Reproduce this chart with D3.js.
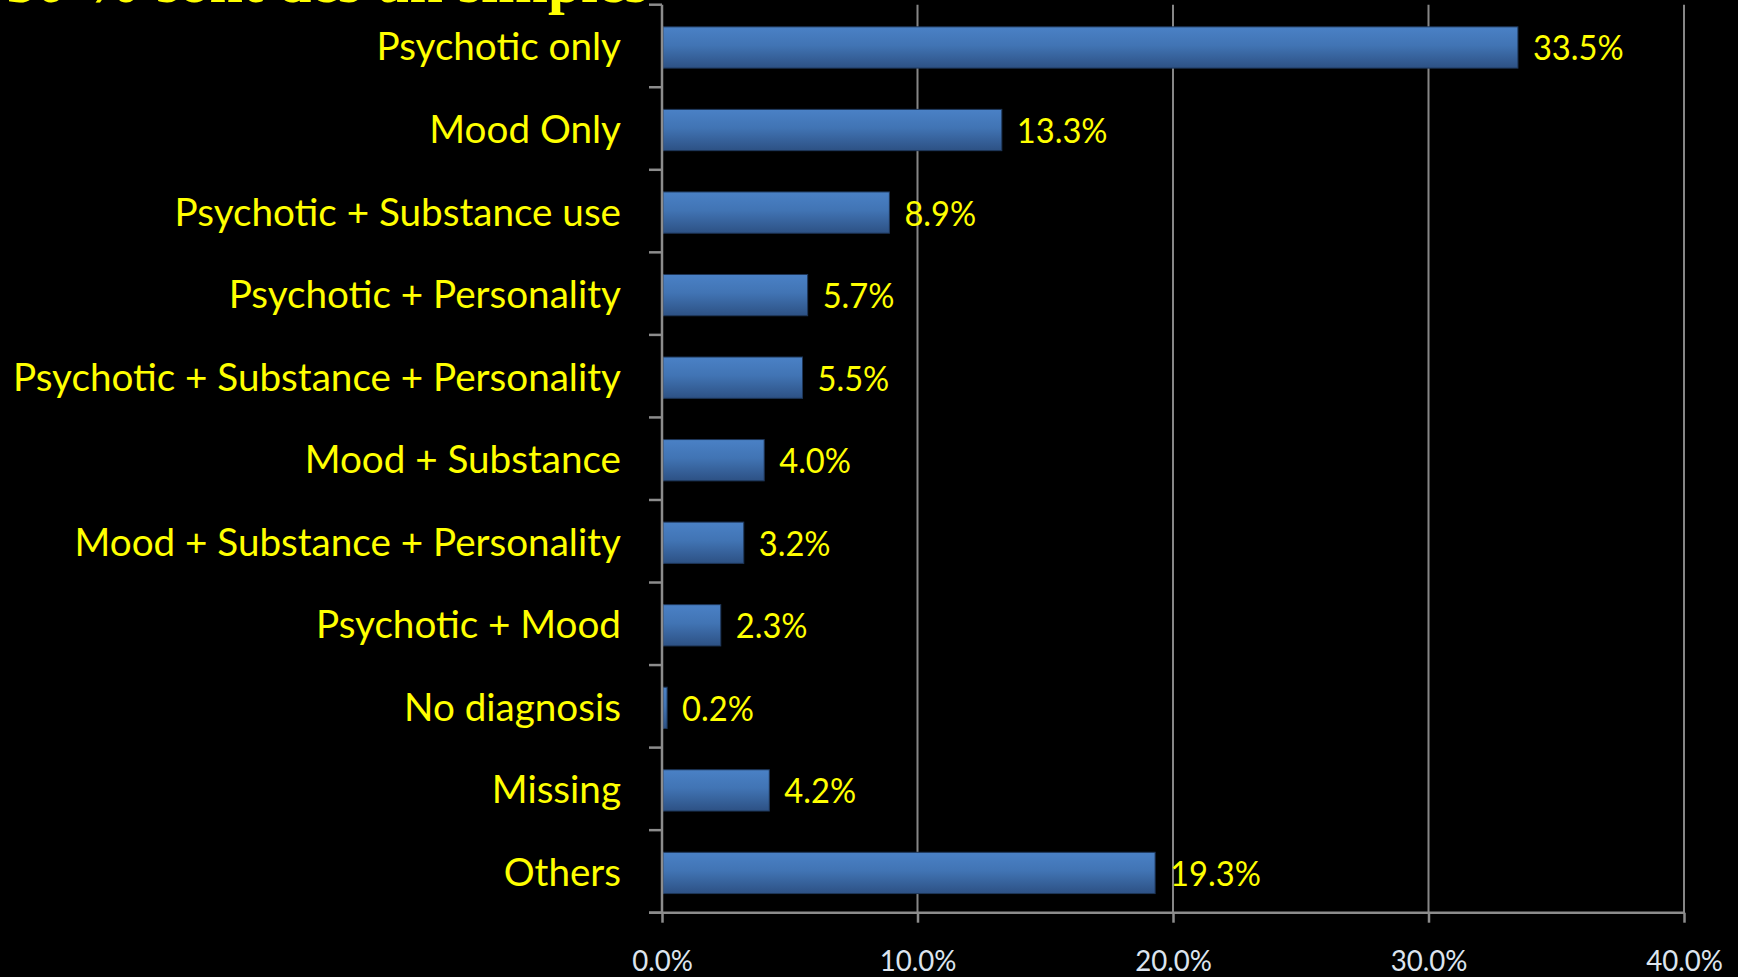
<!DOCTYPE html>
<html>
<head>
<meta charset="utf-8">
<script src="https://cdn.jsdelivr.net/npm/d3@7/dist/d3.min.js"></script>
<style>
  html, body { margin: 0; padding: 0; background: #000; overflow: hidden; }
  svg { display: block; }
</style>
</head>
<body>
<svg id="chart" width="1738" height="977"></svg>
<script>
// ---- data ----
const categories = [
  "Psychotic only",
  "Mood Only",
  "Psychotic + Substance use",
  "Psychotic + Personality",
  "Psychotic + Substance + Personality",
  "Mood + Substance",
  "Mood + Substance + Personality",
  "Psychotic + Mood",
  "No diagnosis",
  "Missing",
  "Others"
];
const values = [33.5, 13.3, 8.9, 5.7, 5.5, 4.0, 3.2, 2.3, 0.2, 4.2, 19.3];
const xTicks = [0, 10, 20, 30, 40];
const tickLabels = ["0.0%", "10.0%", "20.0%", "30.0%", "40.0%"];
const titleText = "50 % sont des un simples";

// ---- layout ----
const W = 1738, H = 977;
const plotLeft = 662, plotRight = 1684, plotTop = 4.7, plotBottom = 912.7;

const svg = d3.select("#chart");
svg.append("rect").attr("width", W).attr("height", H).attr("fill", "#000");

const x = d3.scaleLinear().domain([0, 40]).range([plotLeft, plotRight]);
const y = d3.scaleBand().domain(categories).range([plotTop, plotBottom])
  .paddingInner(0.5).paddingOuter(0.25);

const defs = svg.append("defs");
const grad = defs.append("linearGradient").attr("id", "barGrad")
  .attr("x1", 0).attr("y1", 0).attr("x2", 0).attr("y2", 1);
grad.append("stop").attr("offset", "0%").attr("stop-color", "#4a81c6");
grad.append("stop").attr("offset", "45%").attr("stop-color", "#4174b4");
grad.append("stop").attr("offset", "100%").attr("stop-color", "#2d5184");

// title (cut off at top, as in the original slide)
svg.append("text")
  .attr("x", 648).attr("y", 1.5)
  .attr("text-anchor", "end")
  .attr("font-family", "Liberation Serif, DejaVu Serif, serif")
  .attr("font-weight", "bold")
  .attr("font-size", 60)
  .attr("fill", "#ffff00")
  .text(titleText);

// gridlines
svg.append("g").selectAll("line")
  .data(xTicks.filter(d => d > 0))
  .join("line")
  .attr("x1", d => x(d)).attr("x2", d => x(d))
  .attr("y1", plotTop).attr("y2", plotBottom)
  .attr("stroke", "#868686").attr("stroke-width", 2);

// bars
const barShift = 1.5;
svg.append("g").selectAll("rect")
  .data(categories)
  .join("rect")
  .attr("x", x(0) + 1)
  .attr("y", d => y(d) + barShift)
  .attr("width", (d, i) => Math.max(0, x(values[i]) - x(0) - 1))
  .attr("height", y.bandwidth())
  .attr("fill", "url(#barGrad)")
  .attr("stroke", "#1e3658").attr("stroke-width", 1);

// y axis line + ticks at band boundaries
const step = y.step();
const y0 = y(categories[0]) - y.paddingOuter() * step;
const gy = svg.append("g");
gy.append("line")
  .attr("x1", x(0)).attr("x2", x(0))
  .attr("y1", plotTop).attr("y2", plotBottom)
  .attr("stroke", "#8c8c8c").attr("stroke-width", 2.5);
gy.selectAll("line.tick")
  .data(d3.range(categories.length + 1))
  .join("line").attr("class", "tick")
  .attr("x1", x(0) - 13).attr("x2", x(0))
  .attr("y1", i => y0 + i * step).attr("y2", i => y0 + i * step)
  .attr("stroke", "#8c8c8c").attr("stroke-width", 2.5);

// x axis
const gx = svg.append("g").attr("transform", `translate(0,${plotBottom})`)
  .call(d3.axisBottom(x).tickValues(xTicks)
    .tickFormat((d, i) => tickLabels[i]).tickSize(10).tickSizeOuter(0));
gx.select(".domain").remove();
gx.selectAll(".tick line").attr("stroke", "#8c8c8c").attr("stroke-width", 2.5);
gx.append("line").attr("x1", x(0) - 13).attr("x2", x(40) + 1)
  .attr("y1", 0).attr("y2", 0)
  .attr("stroke", "#8c8c8c").attr("stroke-width", 2.5);
const tickTexts = gx.selectAll(".tick text")
  .attr("y", 58).attr("dy", 0)
  .attr("fill", "#dce4ee")
  .attr("font-family", "Lato, 'Open Sans', sans-serif")
  .attr("font-size", 29.5);

// category labels
const catTexts = svg.append("g").selectAll("text")
  .data(categories)
  .join("text")
  .attr("x", 621)
  .attr("y", d => y(d) + y.bandwidth() / 2 + 14.5)
  .attr("text-anchor", "end")
  .attr("font-family", "Lato, 'Open Sans', sans-serif")
  .attr("font-size", 38.5)
  .attr("fill", "#ffff00")
  .text(d => d);

// value labels
const valTexts = svg.append("g").selectAll("text")
  .data(categories)
  .join("text")
  .attr("x", (d, i) => x(values[i]) + 15)
  .attr("y", d => y(d) + y.bandwidth() / 2 + 14.5)
  .attr("font-family", "Lato, 'Open Sans', sans-serif")
  .attr("font-size", 35)
  .attr("fill", "#ffff00")
  .text((d, i) => values[i].toFixed(1) + "%");

// condense text to match the narrow face of the original
function condense(sel, refIndex, target) {
  const nodes = sel.nodes();
  const f = target / nodes[refIndex].getComputedTextLength();
  nodes.forEach(n => {
    const l = n.getComputedTextLength();
    n.setAttribute("textLength", (l * f).toFixed(2));
    n.setAttribute("lengthAdjust", "spacingAndGlyphs");
  });
}
condense(catTexts, 4, 608);
condense(valTexts, 0, 90.7);
condense(tickTexts, 1, 76.7);
</script>
</body>
</html>
